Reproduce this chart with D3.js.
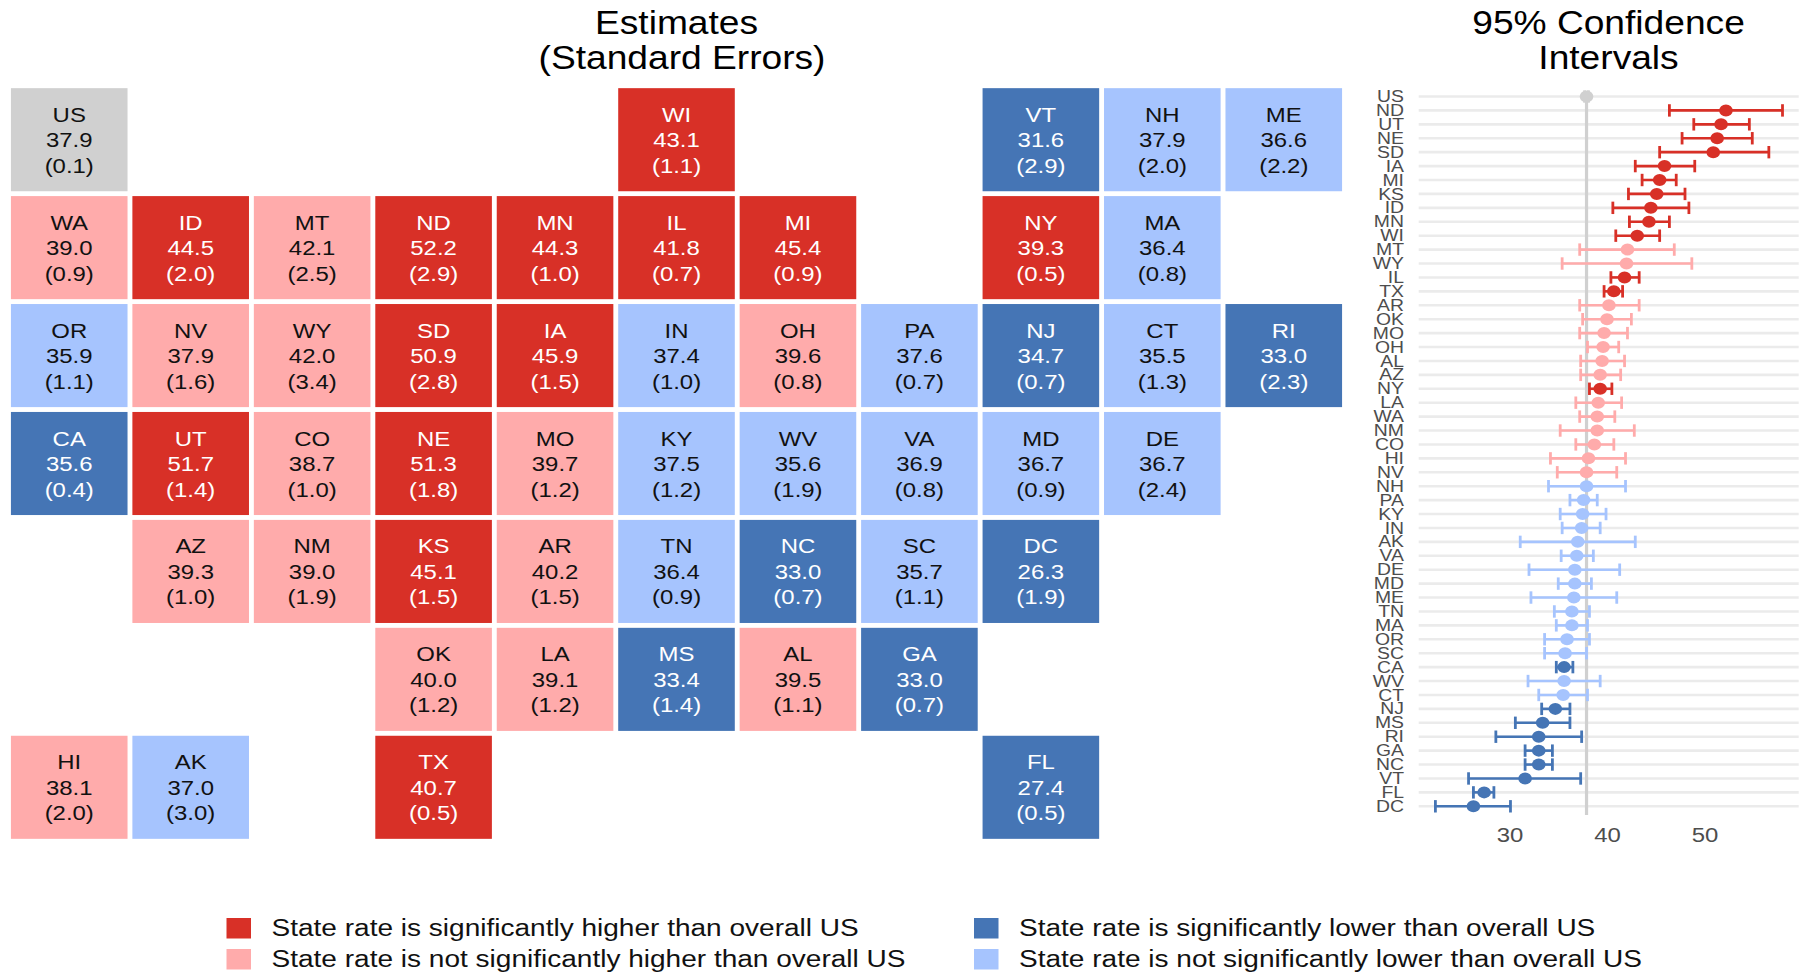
<!DOCTYPE html>
<html>
<head>
<meta charset="utf-8">
<script src="https://cdn.jsdelivr.net/npm/d3@7"></script>
<style>
  html, body { margin: 0; padding: 0; background: #fff; }
  svg { display: block; }
  text { font-family: "Liberation Sans", Arial, sans-serif; }
</style>
</head>
<body>
<div id="chart"></div>
<script>
// values, all in the order of the interval plot
var states = ['US','ND','UT','NE','SD','IA','MI','KS','ID','MN','WI','MT','WY','IL','TX','AR','OK','MO','OH','AL','AZ','NY','LA','WA','NM','CO','HI','NV','NH','PA','KY','IN','AK','VA','DE','MD','ME','TN','MA','OR','SC','CA','WV','CT','NJ','MS','RI','GA','NC','VT','FL','DC']
var estimates = [37.9,52.2,51.7,51.3,50.9,45.9,45.4,45.1,44.5,44.3,43.1,42.1,42.0,41.8,40.7,40.2,40.0,39.7,39.6,39.5,39.3,39.3,39.1,39.0,39.0,38.7,38.1,37.9,37.9,37.6,37.5,37.4,37.0,36.9,36.7,36.7,36.6,36.4,36.4,35.9,35.7,35.6,35.6,35.5,34.7,33.4,33.0,33.0,33.0,31.6,27.4,26.3]
var stdErrors = [0.1,2.9,1.4,1.8,2.8,1.5,0.9,1.5,2.0,1.0,1.1,2.5,3.4,0.7,0.5,1.5,1.2,1.2,0.8,1.1,1.0,0.5,1.2,0.9,1.9,1.0,2.0,1.6,2.0,0.7,1.2,1.0,3.0,0.8,2.4,0.9,2.2,0.9,0.8,1.1,1.1,0.4,1.9,1.3,0.7,1.4,2.3,0.7,0.7,2.9,0.5,1.9]
var ciLow = [37.7,46.4,48.9,47.7,45.4,42.9,43.6,42.2,40.6,42.3,40.9,37.2,35.4,40.4,39.7,37.2,37.5,37.2,38.0,37.3,37.3,38.2,36.8,37.2,35.2,36.8,34.2,34.9,34.0,36.2,35.2,35.4,31.1,35.3,32.0,35.0,32.2,34.6,34.8,33.6,33.6,34.8,31.9,33.0,33.3,30.6,28.6,31.6,31.6,25.8,26.3,22.4]
var ciHigh = [38.1,58.0,54.6,54.9,56.6,49.0,47.1,48.0,48.4,46.4,45.4,46.9,48.7,43.3,41.6,43.3,42.5,42.1,41.2,41.8,41.4,40.5,41.5,40.8,42.8,40.7,41.9,41.0,41.9,39.0,39.9,39.3,42.9,38.6,41.3,38.4,41.0,38.2,38.0,38.2,37.9,36.5,39.3,38.0,36.2,36.2,37.4,34.4,34.4,37.3,28.4,30.1]

// H = significantly higher, h = not sig. higher, L = significantly lower, l = not sig. lower
var statuses = ['U','H','H','H','H','H','H','H','H','H','H','h','h','H','H','h','h','h','h','h','h','H','h','h','h','h','h','h','l','l','l','l','l','l','l','l','l','l','l','l','l','L','l','l','L','L','L','L','L','L','L','L']

// tile map rows, null = empty cell
var tileRows = [
    ['US',null,null,null,null,'WI',null,null,'VT','NH','ME'],
    ['WA','ID','MT','ND','MN','IL','MI',null,'NY','MA',null],
    ['OR','NV','WY','SD','IA','IN','OH','PA','NJ','CT','RI'],
    ['CA','UT','CO','NE','MO','KY','WV','VA','MD','DE',null],
    [null,'AZ','NM','KS','AR','TN','NC','SC','DC',null,null],
    [null,null,null,'OK','LA','MS','AL','GA',null,null,null],
    ['HI','AK',null,'TX',null,null,null,null,'FL',null,null]
]

var xTicks = [30, 40, 50]
var legendKeys = ['H', 'h', 'L', 'l']
var legendLabels = [
    'State rate is significantly higher than overall US',
    'State rate is not significantly higher than overall US',
    'State rate is significantly lower than overall US',
    'State rate is not significantly lower than overall US'
]

var color = d3.scaleOrdinal()
    .domain(['U', 'H', 'h', 'L', 'l'])
    .range(['#d0d0d0', '#d83027', '#ffabab', '#4575b5', '#a6c4fe'])

var width = 1807, height = 973
var stretch = 1.14 // the picture is a bit wider than it should be, text too

var svg = d3.select('#chart').append('svg')
    .attr('width', width)
    .attr('height', height)

// text helper with the horizontal stretch
function label(g, x, y, str, size, fill, anchor) {
    return g.append('text')
        .attr('transform', `translate(${x},${y}) scale(${stretch},1)`)
        .attr('text-anchor', anchor || 'middle')
        .style('font-size', size + 'px')
        .style('fill', fill)
        .text(str)
}

/* tile map */
var colScale = d3.scaleBand().domain(d3.range(11)).range([8.5, 1344.5]).paddingInner(0.04).paddingOuter(0.02)
var rowScale = d3.scaleBand().domain(d3.range(7)).range([86, 841]).paddingInner(0.045).paddingOuter(0.02)

var tiles = []
tileRows.forEach(function (row, r) {
    row.forEach(function (st, c) {
        if (st) {
            var i = states.indexOf(st)
            tiles.push({ st: st, r: r, c: c, est: estimates[i], se: stdErrors[i], status: statuses[i] })
        }
    })
})

var tile = svg.append('g').attr('class', 'tiles')
    .selectAll('g')
    .data(tiles)
    .enter().append('g')
    .attr('transform', d => `translate(${colScale(d.c)},${rowScale(d.r)})`)

tile.append('rect')
    .attr('width', colScale.bandwidth())
    .attr('height', rowScale.bandwidth())
    .style('fill', d => color(d.status))

tile.each(function (d) {
    var g = d3.select(this)
    var cx = colScale.bandwidth() / 2
    var cy = rowScale.bandwidth() / 2
    var fill = (d.status == 'H' || d.status == 'L') ? '#fff' : '#111'
    label(g, cx, cy - 18, d.st, 21, fill)
    label(g, cx, cy + 7.5, d.est.toFixed(1), 21, fill)
    label(g, cx, cy + 33, '(' + d.se.toFixed(1) + ')', 21, fill)
})

/* titles */
var titles = svg.append('g').attr('class', 'titles')
label(titles, 676.5, 33.5, 'Estimates', 32.6, '#000')
label(titles, 682, 68.5, '(Standard Errors)', 32.6, '#000')
label(titles, 1608.5, 33.5, '95% Confidence', 32.6, '#000')
label(titles, 1608.5, 68.5, 'Intervals', 32.6, '#000')

/* interval plot */
var xScale = d3.scaleLinear().domain([30, 50]).range([1509.5, 1704.5])
var yScale = d3.scalePoint().domain(states).range([96.5, 806.3])

var ci = states.map(function (st, i) {
    return { st: st, est: estimates[i], low: ciLow[i], high: ciHigh[i], status: statuses[i] }
})

var plot = svg.append('g').attr('class', 'ci')

plot.selectAll('.grid')
    .data(states)
    .enter().append('line')
    .attr('class', 'grid')
    .attr('x1', 1418.7)
    .attr('x2', 1798.7)
    .attr('y1', d => yScale(d))
    .attr('y2', d => yScale(d))
    .style('stroke', '#ebebeb')
    .style('stroke-width', 2.6)

plot.append('line')
    .attr('x1', xScale(estimates[0]))
    .attr('x2', xScale(estimates[0]))
    .attr('y1', yScale('US'))
    .attr('y2', 815)
    .style('stroke', '#d0d0d0')
    .style('stroke-width', 3.2)

var capSize = 6.2

var row = plot.selectAll('.row')
    .data(ci)
    .enter().append('g')
    .attr('class', 'row')
    .attr('transform', d => `translate(0,${yScale(d.st)})`)
    .style('stroke', d => color(d.status))
    .style('fill', d => color(d.status))

row.append('line')
    .attr('x1', d => xScale(d.low))
    .attr('x2', d => xScale(d.high))
    .style('stroke-width', 2.6)

row.append('line')
    .attr('x1', d => xScale(d.low))
    .attr('x2', d => xScale(d.low))
    .attr('y1', -capSize)
    .attr('y2', capSize)
    .style('stroke-width', 2.8)

row.append('line')
    .attr('x1', d => xScale(d.high))
    .attr('x2', d => xScale(d.high))
    .attr('y1', -capSize)
    .attr('y2', capSize)
    .style('stroke-width', 2.8)

row.append('ellipse')
    .attr('cx', d => xScale(d.est))
    .attr('rx', 6.8)
    .attr('ry', 6)
    .style('stroke', 'none')

// axes
var xAxis = d3.axisBottom(xScale).tickValues(xTicks).tickSize(0)
var yAxis = d3.axisLeft(yScale).tickSize(0)

var xG = svg.append('g')
    .attr('transform', 'translate(0,821)')
    .call(xAxis)
xG.select('.domain').remove()
xG.selectAll('text')
    .attr('y', 0)
    .attr('dy', 0)
    .attr('transform', `translate(0,21) scale(${stretch},1)`)
    .style('font-size', '21px')
    .style('fill', '#4d4d4d')

var yG = svg.append('g')
    .attr('transform', 'translate(1404,0)')
    .call(yAxis)
yG.select('.domain').remove()
yG.selectAll('text')
    .attr('x', 0)
    .attr('dy', '0.36em')
    .attr('transform', `scale(${stretch},1)`)
    .style('font-size', '17px')
    .style('fill', '#4d4d4d')
yG.selectAll('.tick')
    .attr('transform', d => `translate(0,${yScale(d) - 0.5})`)

/* legend */
var legendCol = d3.scaleOrdinal().domain([0, 1]).range([226.5, 974])
var legendRow = d3.scaleOrdinal().domain([0, 1]).range([918, 949])

var legend = svg.append('g').attr('class', 'legend')
legendKeys.forEach(function (key, i) {
    var x = legendCol(Math.floor(i / 2))
    var y = legendRow(i % 2)
    legend.append('rect')
        .attr('x', x)
        .attr('y', y)
        .attr('width', 24.5)
        .attr('height', 20.5)
        .style('fill', color(key))
    label(legend, x + 45, y + 18, legendLabels[i], 24.6, '#111', 'start')
})
</script>
</body>
</html>
